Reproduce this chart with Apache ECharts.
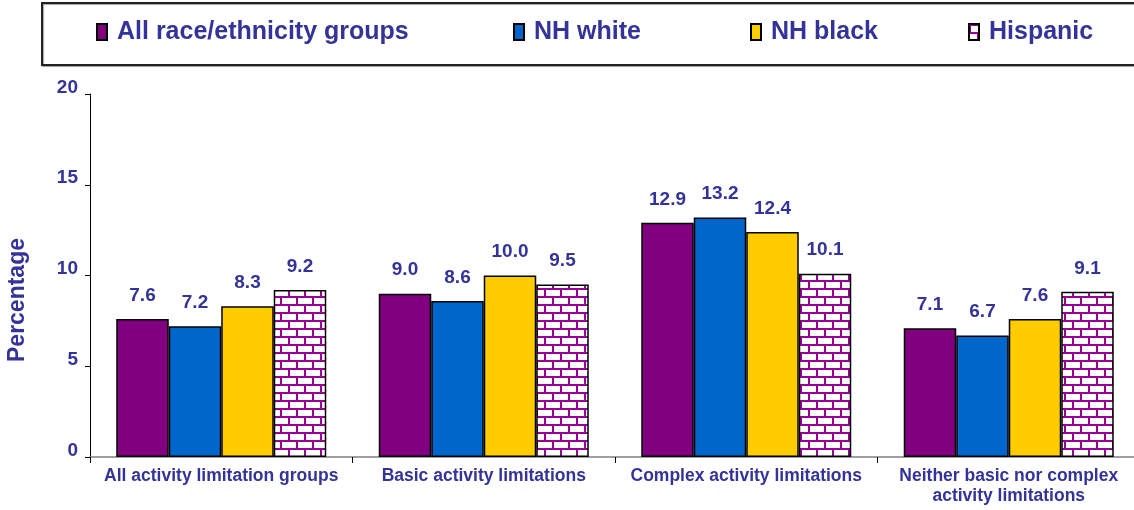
<!DOCTYPE html>
<html><head><meta charset="utf-8">
<script src="https://cdn.jsdelivr.net/npm/echarts@6/dist/echarts.min.js"></script>
<style>html,body{margin:0;padding:0;background:#fff}#c{width:1134px;height:510px}</style>
</head><body><div id="c"></div>
<script>
const categories = ["All activity limitation groups", "Basic activity limitations", "Complex activity limitations", "Neither basic nor complex\nactivity limitations"];
const seriesNames = ["All race/ethnicity groups", "NH white", "NH black", "Hispanic"];
const allGroups = [7.6, 9.0, 12.9, 7.1];
const nhWhite = [7.2, 8.6, 13.2, 6.7];
const nhBlack = [8.3, 10.0, 12.4, 7.6];
const hispanic = [9.2, 9.5, 10.1, 9.1];
const yTicks = [0, 5, 10, 15, 20];

const TXT = '#333399';
const FONT = 'Liberation Sans, Arial, sans-serif';

function brick() {
  const c = document.createElement('canvas');
  c.width = 16; c.height = 16;
  const x = c.getContext('2d');
  x.fillStyle = '#fff'; x.fillRect(0, 0, 16, 16);
  x.fillStyle = '#990099';
  x.fillRect(0, 0, 16, 2);
  x.fillRect(0, 8, 16, 2);
  x.fillRect(0, 0, 2, 8);
  x.fillRect(8, 8, 2, 8);
  return c;
}
const brickPattern = { image: brick(), repeat: 'repeat' };

const fills = ['#800080', '#0066CC', '#FFCC00', brickPattern];
const values = [allGroups, nhWhite, nhBlack, hispanic];
const legendLeft = [96, 513, 750, 968];

const chart = echarts.init(document.getElementById('c'), null, { renderer: 'canvas' });
chart.setOption({
  animation: false,
  backgroundColor: '#fff',
  graphic: [
    { type: 'rect', shape: { x: 42, y: 3, width: 1110, height: 62 }, style: { fill: '#fff', stroke: '#222', lineWidth: 2, shadowColor: 'rgba(0,0,0,0.35)', shadowOffsetX: 1, shadowOffsetY: 1, shadowBlur: 1 }, z: -1 },
    { type: 'text', x: 18, y: 300, rotation: Math.PI / 2, style: { text: 'Percentage', fill: TXT, font: 'bold 23px ' + FONT, textAlign: 'center', textVerticalAlign: 'middle' } }
  ],
  legend: seriesNames.map((n, i) => ({
    data: [n], left: legendLeft[i], top: 19, orient: 'horizontal', padding: 0,
    itemWidth: 10, itemHeight: 16, icon: 'rect',
    textStyle: { color: TXT, fontWeight: 'bold', fontSize: 25, fontFamily: FONT, lineHeight: 26, padding: [0, 0, 0, 5] },
    selectedMode: false
  })),
  grid: { left: 90, top: 94, bottom: 53, width: 1050, outerBoundsMode: 'none' },
  xAxis: {
    type: 'category', data: categories,
    axisLine: { lineStyle: { color: '#808080', width: 1.5 } },
    axisTick: { show: true, length: 6, lineStyle: { color: '#000' } },
    axisLabel: { interval: 0, color: TXT, fontWeight: 'bold', fontSize: 17.5, fontFamily: FONT, lineHeight: 20, margin: 9 }
  },
  yAxis: {
    type: 'value', min: yTicks[0], max: yTicks[yTicks.length - 1], interval: 5,
    splitLine: { show: false },
    axisLine: { show: true, lineStyle: { color: '#000', width: 1 } },
    axisTick: { show: true, length: 5, lineStyle: { color: '#000' } },
    axisLabel: { color: TXT, fontWeight: 'bold', fontSize: 19, fontFamily: FONT, margin: 12, verticalAlign: 'bottom', lineHeight: 13 }
  },
  series: seriesNames.map((n, i) => ({
    name: n, type: 'bar', data: values[i],
    barGap: '0%', barCategoryGap: '20%',
    itemStyle: { color: fills[i], borderColor: '#000', borderWidth: 1.5 },
    label: { show: true, position: 'top', distance: 14, color: TXT, fontWeight: 'bold', fontSize: 19, fontFamily: FONT, formatter: p => p.value.toFixed(1) }
  }))
});
</script></body></html>
